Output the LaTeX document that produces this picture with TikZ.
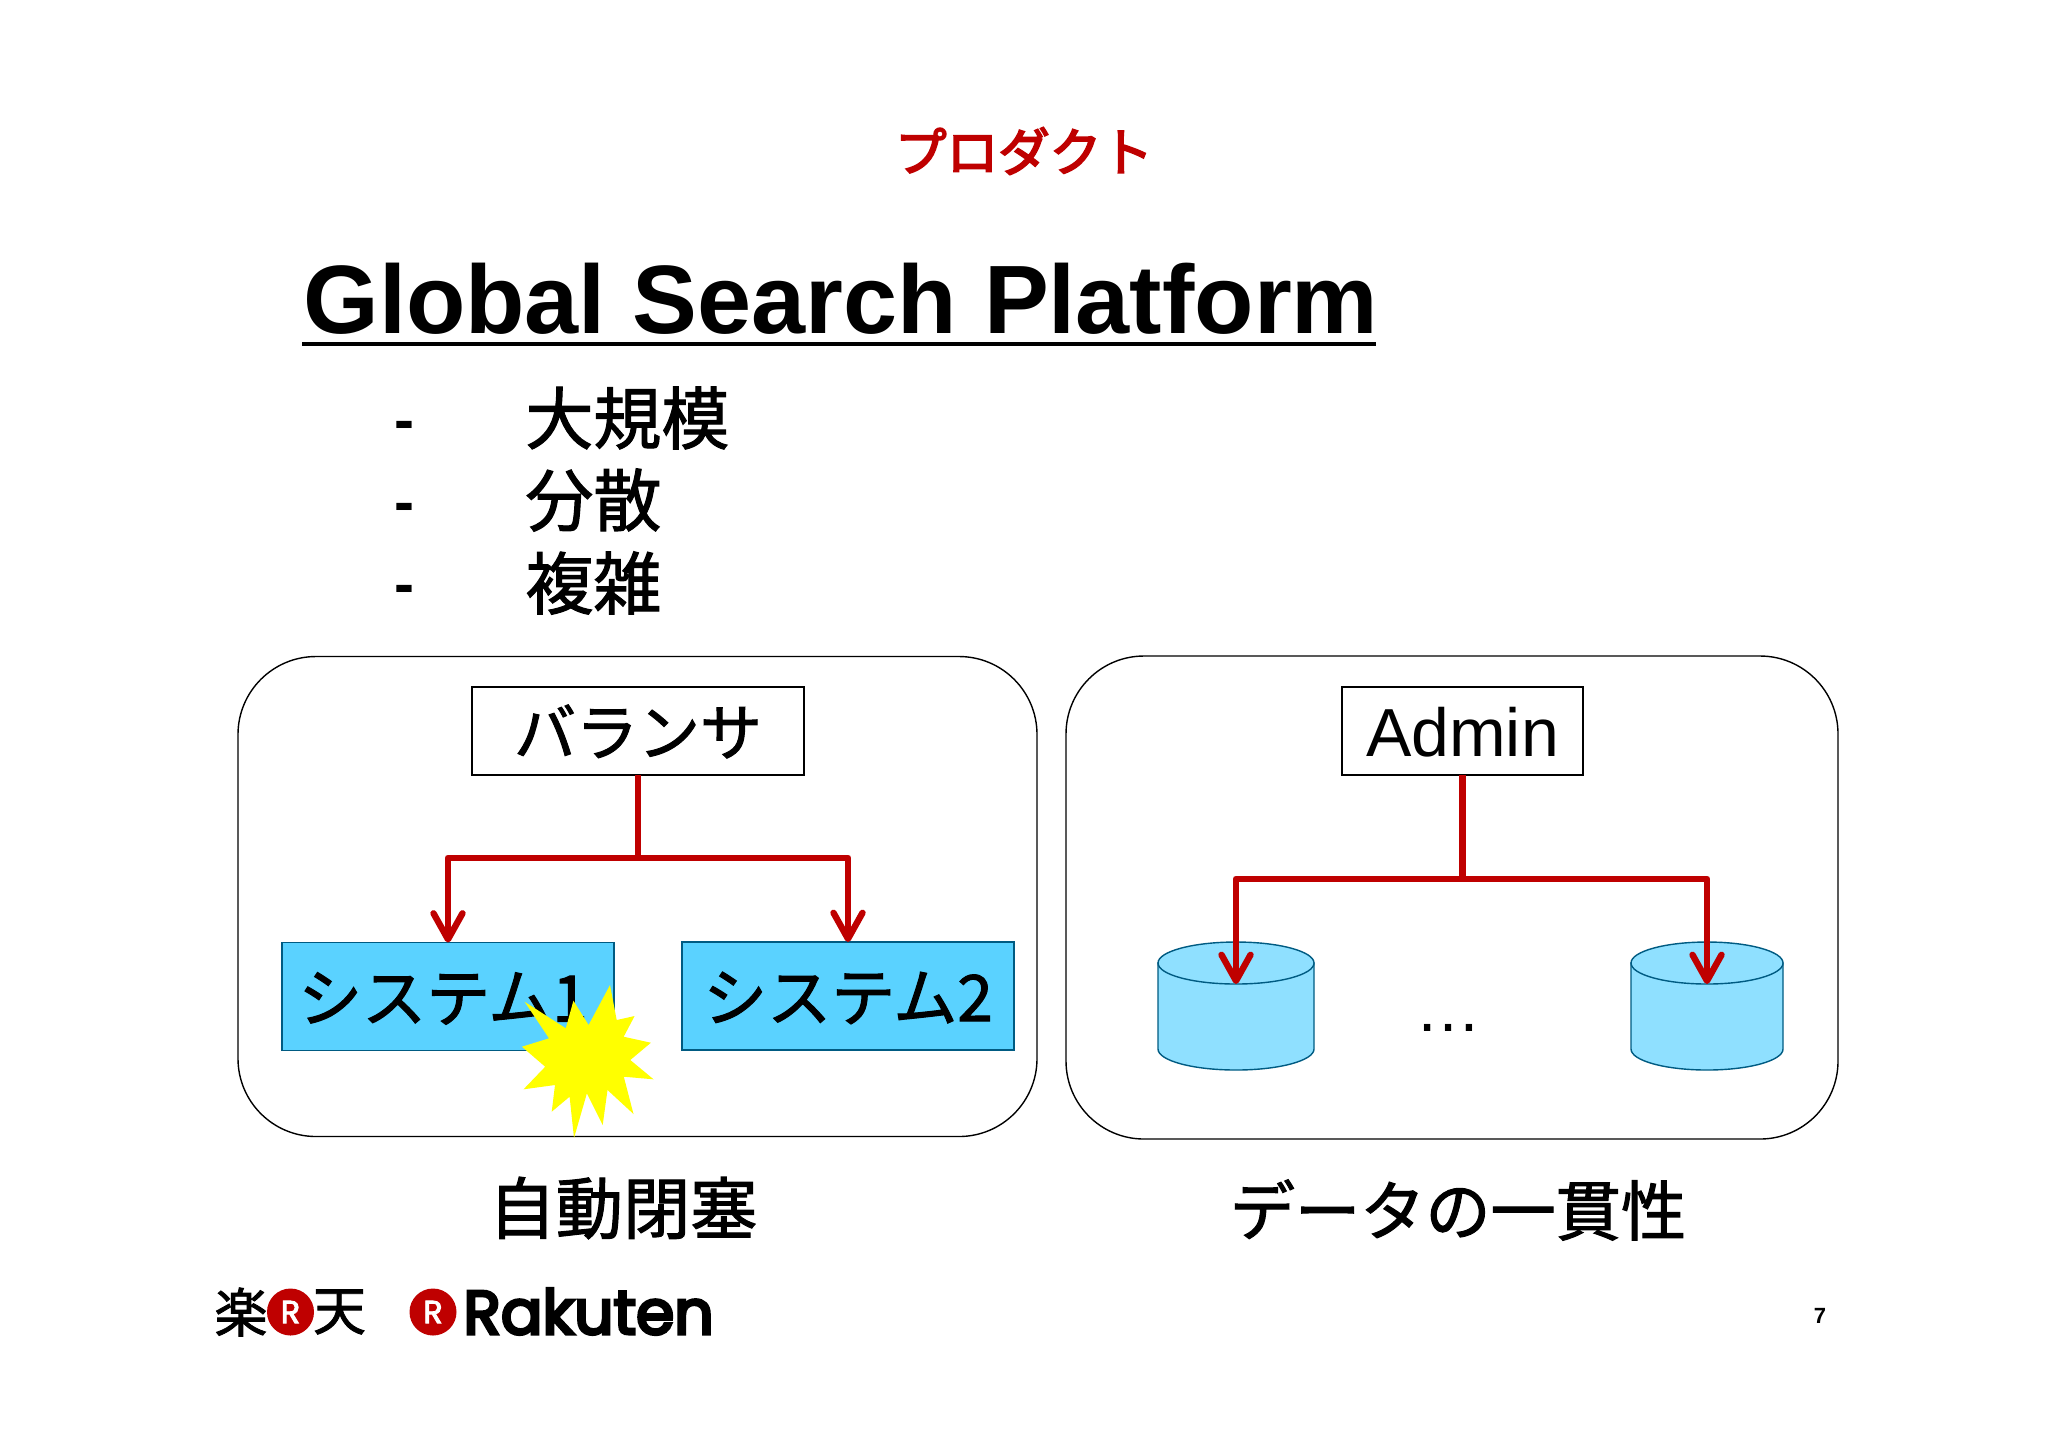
\documentclass[tikz,border=0pt]{standalone}
\usepackage{fontspec}
\setmainfont{Liberation Sans}
\newfontfamily\jpf[FakeBold=1.6]{Noto Sans CJK JP}
\newfontfamily\jph[FakeBold=3.5]{Noto Sans CJK JP}
\newfontfamily\popf[FakeBold=3]{Poppins}
\newfontfamily\popw[FakeBold=5]{Poppins}
\usetikzlibrary{arrows.meta,shapes.geometric}
\definecolor{rakred}{HTML}{BF0000}
\definecolor{sysblue}{HTML}{5AD2FF}
\definecolor{sysedge}{HTML}{005B82}
\definecolor{dbblue}{HTML}{8FE0FF}
\definecolor{burst}{HTML}{FFFF00}
\newcommand{\fsz}[1]{\fontsize{#1pt}{#1pt}\selectfont}
\newcommand{\lowered}[2]{\raisebox{-#1pt}[0pt][0pt]{#2}}
\tikzset{
  panel/.style={draw=black,line width=0.7pt,rounded corners=39pt,inner sep=0,outer sep=0},
  topbox/.style={draw=black,line width=0.7pt,fill=white,minimum height=44pt,inner sep=0,outer sep=0},
  sysbox/.style={draw=sysedge,line width=0.7pt,fill=sysblue,minimum width=166pt,minimum height=54pt,inner sep=0,outer sep=0},
  dbtop/.style={ellipse,draw=sysedge,line width=0.7pt,fill=dbblue,minimum height=21pt,inner sep=0,outer sep=0},
  dbbody/.style={draw=sysedge,line width=0.7pt,fill=dbblue},
  redline/.style={draw=rakred,line width=3.4pt},
  redarrow/.style={redline,line join=round,-{Straight Barb[length=13pt,width=14.5pt,line width=3.2pt,round]}},
  jp/.style={font=\jpf\fsz{#1},inner sep=0},
  logoR/.style={circle,fill=rakred,minimum size=23.5pt,inner sep=0,text=white,font=\popf\fsz{16}},
}
\begin{document}
\begin{tikzpicture}[x=0.5pt,y=-0.5pt]
\useasboundingbox (0,0) rectangle (2048,1448);
\fill[white] (0,0) rectangle (2048,1448);
% heading
\node[font=\jph\fsz{25.8},inner sep=0,text=rakred] (head) at (1024,151) {プロダクト};
\node[font=\bfseries\fsz{48.6},inner sep=0,anchor=base west] (title) at (303,333) {Global Search Platform};
\draw[line width=2.2pt] (302,344) coordinate (ul1) -- (1376,344) coordinate (ul2);
% list
\node[font=\bfseries\fsz{30},inner sep=0] (d1) at (404,431) {-};
\node[font=\bfseries\fsz{30},inner sep=0] (d2) at (404,513) {-};
\node[font=\bfseries\fsz{30},inner sep=0] (d3) at (404,595) {-};
\node[jp=34,anchor=west] (l1) at (525,418) {大規模};
\node[jp=34,anchor=west] (l2) at (525,500) {分散};
\node[jp=34,anchor=west] (l3) at (525,583) {複雑};
% panels
\node[panel,minimum width=399.5pt,minimum height=240pt] (pl) at (637.5,896.5) {};
\node[panel,minimum width=386pt,minimum height=241.5pt] (pr) at (1452,897.5) {};
% left panel
\node[topbox,minimum width=166pt,jp=31] (bal) at (638,731) {\lowered{12.2}{バランサ}};
\node[sysbox,jp=32] (sys1) at (448,996.5) {\lowered{12.5}{システム1\hspace{5pt}}};
\node[sysbox,jp=32] (sys2) at (848,996) {\lowered{12.5}{システム2}};
\coordinate (j1) at (638,858);
\draw[redline] (bal.south) -- (j1);
\draw[redarrow] (j1) -| (sys1.north);
\draw[redarrow] (j1) -| (sys2.north);
\fill[burst] (610,985) -- (616.7,1020) -- (634.6,1016) -- (623.7,1036.7) -- (650.9,1042.7)
  -- (630.3,1060) -- (653.6,1079.3) -- (623.8,1076.7) -- (633.5,1114) -- (607.5,1090)
  -- (602.7,1125) -- (586.9,1093.3) -- (574,1138) -- (569.6,1096.7) -- (551.7,1111.7)
  -- (555,1085) -- (523.5,1089.3) -- (545.2,1066.7) -- (521.9,1046.7) -- (549,1038.3)
  -- (524.6,1001.7) -- (565.8,1028.3) -- (573.4,1000.7) -- (588.6,1025) -- cycle;
% right panel
\node[topbox,minimum width=120.5pt,font=\fsz{34},inner sep=0] (adm) at (1462.5,731) {\lowered{12.5}{Admin}};
\draw[dbbody] (1158,963) -- (1158,1049) arc[start angle=180,end angle=0,x radius=78,y radius=21] -- (1314,963) -- cycle;
\draw[dbbody] (1631,963) -- (1631,1049) arc[start angle=180,end angle=0,x radius=76,y radius=21] -- (1783,963) -- cycle;
\node[dbtop,minimum width=78pt] (db1) at (1236,963) {};
\node[dbtop,minimum width=76pt] (db2) at (1707,963) {};
\coordinate (j2) at (1462.5,879);
\draw[redline] (adm.south) -- (j2);
\draw[redarrow] (j2) -| (db1.south);
\draw[redarrow] (j2) -| (db2.south);
\node[font=\fsz{33},inner sep=0,anchor=base] (dots) at (1448,1031) {…};
% captions
\node[jp=33.6] (cap1) at (623,1208) {自動閉塞};
\node[jp=32.6] (cap2) at (1458,1210) {データの一貫性};
% footer
\node[jp=26.5] (raku) at (241,1312) {楽};
\node[logoR] (r1) at (290.5,1312) {R};
\node[jp=26.5] (ten) at (339.5,1312) {天};
\node[logoR] (r2) at (433,1312) {R};
\node[font=\popw\fsz{30.8},inner sep=0,anchor=base west] (rak) at (463,1334) {Rakuten};
\node[font=\bfseries\fsz{11},inner sep=0] (pg) at (1820,1316) {7};
\end{tikzpicture}
\end{document}
